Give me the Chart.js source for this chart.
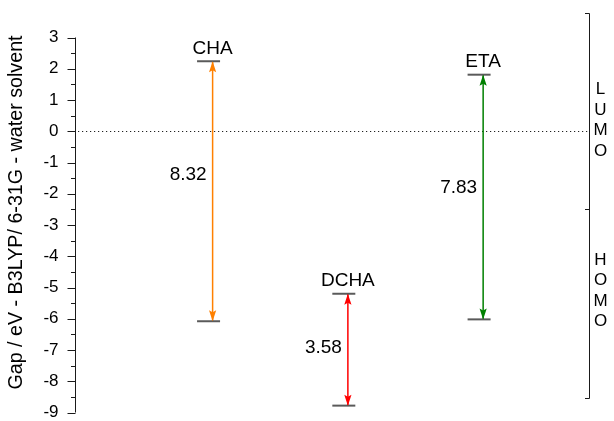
<!DOCTYPE html>
<html>
<head>
<meta charset="utf-8">
<script src="https://cdn.jsdelivr.net/npm/chart.js@4.4.1/dist/chart.umd.min.js"></script>
<style>
  html, body { margin: 0; padding: 0; background: #fff; }
  canvas { display: block; }
</style>
</head>
<body>
<canvas id="c" width="614" height="421"></canvas>
<script>
// Frontier orbital energies (eV) and HOMO–LUMO gaps
const molecules = ['CHA', 'DCHA', 'ETA'];
const lumo = [2.24, -5.20, 1.81];
const gaps = [8.32, 3.58, 7.83];
const homo = lumo.map((v, i) => +(v - gaps[i]).toFixed(2));
const arrowColors = ['#ff8000', '#ff0000', '#008000'];
const yTickValues = [3, 2, 1, 0, -1, -2, -3, -4, -5, -6, -7, -8, -9];
const regionBounds = [3.8, -2.48, -8.54];
const regionNames = ['LUMO', 'HOMO'];

const FONT = "'Liberation Sans', Arial, Helvetica, sans-serif";
Chart.defaults.font.family = FONT;
Chart.defaults.color = '#000';

// horizontal bars marking each orbital level
const levelData = [];
molecules.forEach((m, i) => {
  levelData.push({ x: i + 1, y: lumo[i] });
  levelData.push({ x: i + 1, y: homo[i] });
});

const ARROW_DX = 0.03;
const arrowSets = molecules.map((m, i) => ({
  label: m,
  data: [{ x: i + 1 + ARROW_DX, y: lumo[i] }, { x: i + 1 + ARROW_DX, y: homo[i] }],
  showLine: true,
  borderColor: arrowColors[i],
  backgroundColor: arrowColors[i],
  borderWidth: 1.5,
  pointRadius: 0,
  pointHoverRadius: 0,
  clip: false,
  order: 1
}));

const decor = {
  id: 'decor',
  beforeDatasetsDraw(chart) {
    const { ctx, chartArea, scales } = chart;
    const y0 = Math.round(scales.y.getPixelForValue(0)) + 0.5;
    ctx.save();
    ctx.strokeStyle = '#222';
    ctx.lineWidth = 1.1;
    ctx.setLineDash([1.2, 2.8]);
    ctx.beginPath();
    ctx.moveTo(chartArea.left + 2, y0);
    ctx.lineTo(chartArea.right - 2, y0);
    ctx.stroke();
    ctx.restore();
  },
  afterDatasetsDraw(chart, args, opts) {
    const { ctx, chartArea, scales } = chart;
    const ys = scales.y;
    ctx.save();

    // arrow heads at both ends of each gap arrow
    arrowSets.forEach((ds, i) => {
      const meta = chart.getDatasetMeta(i + 1);
      const top = meta.data[0], bot = meta.data[1];
      ctx.fillStyle = ds.borderColor;
      const L = 11, W = 3.6;
      ctx.beginPath();
      ctx.moveTo(top.x, top.y);
      ctx.lineTo(top.x - W, top.y + L);
      ctx.lineTo(top.x, top.y + L - 2);
      ctx.lineTo(top.x + W, top.y + L);
      ctx.closePath();
      ctx.fill();
      ctx.beginPath();
      ctx.moveTo(bot.x, bot.y);
      ctx.lineTo(bot.x - W, bot.y - L);
      ctx.lineTo(bot.x, bot.y - L + 2);
      ctx.lineTo(bot.x + W, bot.y - L);
      ctx.closePath();
      ctx.fill();

      // molecule name above the LUMO level
      ctx.fillStyle = '#000';
      ctx.font = `19px ${FONT}`;
      ctx.textAlign = 'center';
      ctx.textBaseline = 'alphabetic';
      ctx.fillText(molecules[i], top.x, top.y - 7.5);

      // gap value beside the arrow
      ctx.textAlign = 'right';
      ctx.textBaseline = 'middle';
      const mid = (top.y + bot.y) / 2 + opts.gapShift[i];
      ctx.fillText(gaps[i].toFixed(2), top.x - 6, mid);
    });

    // left axis line with major and minor ticks
    const ax = Math.round(chartArea.left) - 0.5;
    const yTop = ys.getPixelForValue(Math.max(...yTickValues));
    const yBot = ys.getPixelForValue(Math.min(...yTickValues));
    ctx.strokeStyle = '#1a1a1a';
    ctx.lineWidth = 1;
    ctx.beginPath();
    ctx.moveTo(ax, yTop);
    ctx.lineTo(ax, yBot);
    yTickValues.forEach(v => {
      const p = Math.round(ys.getPixelForValue(v)) + 0.5;
      ctx.moveTo(ax - 8, p);
      ctx.lineTo(ax, p);
    });
    for (let k = 0; k < yTickValues.length - 1; k++) {
      const v = (yTickValues[k] + yTickValues[k + 1]) / 2;
      const p = Math.round(ys.getPixelForValue(v)) + 0.5;
      ctx.moveTo(ax - 4.5, p);
      ctx.lineTo(ax, p);
    }
    ctx.stroke();

    // LUMO / HOMO bracket on the right
    const bx = Math.round(chartArea.right) - 0.5;
    const bp = regionBounds.map(v => Math.round(ys.getPixelForValue(v)) + 0.5);
    ctx.beginPath();
    ctx.moveTo(bx, bp[0]);
    ctx.lineTo(bx, bp[bp.length - 1]);
    bp.forEach(p => { ctx.moveTo(bx - 4.5, p); ctx.lineTo(bx, p); });
    ctx.stroke();

    ctx.fillStyle = '#000';
    ctx.font = `17px ${FONT}`;
    ctx.textAlign = 'center';
    ctx.textBaseline = 'middle';
    regionNames.forEach((name, r) => {
      const c = ys.getPixelForValue(opts.regionCenters[r]);
      const step = 20.5;
      const chars = name.split('');
      chars.forEach((ch, k) => {
        ctx.fillText(ch, bx + 11, c + (k - (chars.length - 1) / 2) * step);
      });
    });
    ctx.restore();
  }
};

new Chart(document.getElementById('c'), {
  type: 'scatter',
  data: {
    datasets: [
      {
        label: 'levels',
        data: levelData,
        pointStyle: 'line',
        pointRadius: 11.5,
        pointHoverRadius: 11.5,
        pointBorderWidth: 2,
        pointBorderColor: '#5a5a5a',
        borderColor: '#5a5a5a',
        showLine: false,
        clip: false,
        order: 0
      },
      ...arrowSets
    ]
  },
  plugins: [decor],
  options: {
    responsive: false,
    devicePixelRatio: 1,
    animation: false,
    events: [],
    layout: { autoPadding: false, padding: { left: 0, right: 24, top: 12.5, bottom: 8.5 } },
    plugins: {
      legend: { display: false },
      tooltip: { enabled: false },
      decor: {
        gapShift: [-16, -2, -9],
        regionCenters: [0.35, -5.1]
      }
    },
    scales: {
      x: { type: 'linear', display: false, min: 0.02, max: 3.82 },
      y: {
        type: 'linear',
        min: -9,
        max: 3.8,
        afterBuildTicks: (s) => { s.ticks = yTickValues.map(v => ({ value: v })); },
        afterFit: (s) => { s.width = 76; s.paddingTop = 0; s.paddingBottom = 0; },
        grid: { display: false, drawTicks: false },
        border: { display: false },
        ticks: { padding: 17.5, font: { size: 17 }, color: '#000' },
        title: {
          display: true,
          text: 'Gap / eV - B3LYP/ 6-31G - water solvent',
          font: { size: 19.7 },
          color: '#000',
          padding: { top: 5, bottom: 0 }
        }
      }
    }
  }
});
</script>
</body>
</html>
